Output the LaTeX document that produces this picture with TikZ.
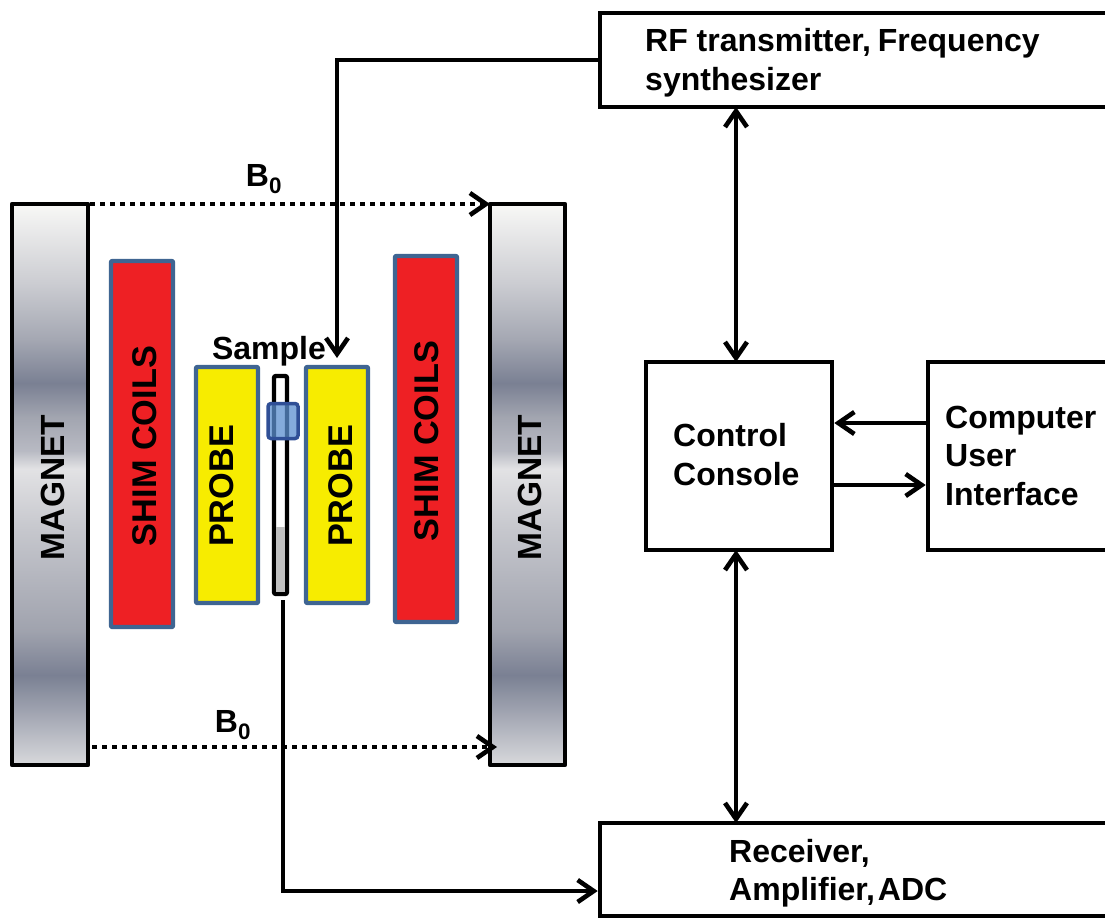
\documentclass[tikz,border=0pt]{standalone}
\usepackage{fontspec}
\setmainfont{Liberation Sans}
\usetikzlibrary{arrows.meta}
\definecolor{magbot}{HTML}{D8D9DC}
\definecolor{magd}{HTML}{7A8093}
\definecolor{maga}{HTML}{A0A3AE}
\definecolor{magb}{HTML}{C6C7CD}
\definecolor{magl}{HTML}{E2E2E4}
\definecolor{magc}{HTML}{B8BAC3}
\definecolor{mage}{HTML}{A2A5B0}
\definecolor{magf}{HTML}{A5A8B3}
\definecolor{magg}{HTML}{CCCDD2}
\definecolor{magw}{HTML}{F8F8F6}
\definecolor{coilblue}{HTML}{3F6592}
\definecolor{coilred}{HTML}{EE2024}
\definecolor{probey}{HTML}{F7EC00}
\definecolor{capline}{HTML}{2F4F96}
\definecolor{capfill}{HTML}{5B8FD0}
\pgfdeclareverticalshading{magshade}{100bp}{
  color(0bp)=(magbot); color(25bp)=(magbot);
  color(33bp)=(magd); color(37bp)=(maga); color(46bp)=(magb); color(51.4bp)=(magl); color(53bp)=(magc); color(56bp)=(mage); color(59bp)=(magd); color(63bp)=(magf); color(68bp)=(magg); color(75bp)=(magw); color(100bp)=(magw)}
\tikzset{
  px/.style={x=1pt,y=-1pt},
  magnetbox/.style={draw=black,line width=4.6pt,shading=magshade,line join=round},
  coilbox/.style={draw=coilblue,line width=4.4pt,line join=round,rounded corners=1pt},
  blockbox/.style={draw=black,line width=4.6pt,fill=white},
  sidetxt/.style={font=\fontsize{34.3}{40}\selectfont\bfseries,rotate=90,inner sep=0pt},
  magtxt/.style={font=\fontsize{33.5}{40}\selectfont\bfseries,rotate=90,inner sep=0pt},
  btxt/.style={font=\fontsize{32}{38.5}\selectfont\bfseries,align=left,inner sep=0pt,anchor=north west},
  ltxt/.style={font=\fontsize{32}{38}\selectfont\bfseries,inner sep=0pt},
  barb/.tip={Straight Barb[length=16pt,width=22pt,line width=4.6pt]},
  conn/.style={line width=4.6pt,-barb},
  conn2/.style={line width=4.6pt,barb-barb},
  dotconn/.style={line width=4.8pt,dash pattern=on 4.8pt off 5.2pt,-{Straight Barb[length=16pt,width=22pt,line width=4.6pt,sep=0pt]}},
}
\begin{document}
\begin{tikzpicture}[px]
\useasboundingbox (0,0) rectangle (1105,918);
\clip (0,0) rectangle (1105,918);
% magnets
\node[magnetbox,minimum width=76pt,minimum height=561pt,inner sep=0pt] (magL) at (50,484.5) {};
\node[magnetbox,minimum width=75pt,minimum height=561pt,inner sep=0pt] (magR) at (527.5,484.5) {};
\node[magtxt] (magLt) at (52.5,487.5) {MAGNET};
\node[magtxt] (magRt) at (529.5,487.5) {MAGNET};
% shim coils
\node[coilbox,fill=coilred,minimum width=62pt,minimum height=366pt,inner sep=0pt] (shimL) at (142,444) {};
\node[coilbox,fill=coilred,minimum width=62pt,minimum height=366pt,inner sep=0pt] (shimR) at (426,439) {};
\node[sidetxt] (shimLt) at (144.5,446) {SHIM COILS};
\node[sidetxt] (shimRt) at (426.5,441) {SHIM COILS};
% probes
\node[coilbox,fill=probey,minimum width=62pt,minimum height=236pt,inner sep=0pt] (probeL) at (227,485) {};
\node[coilbox,fill=probey,minimum width=62pt,minimum height=236pt,inner sep=0pt] (probeR) at (337,485) {};
\node[sidetxt] (probeLt) at (221.5,486) {PROBE};
\node[sidetxt] (probeRt) at (340.5,486) {PROBE};
% sample tube
\node[draw=black,line width=4.4pt,fill=white,rounded corners=2pt,minimum width=13pt,minimum height=218pt,inner sep=0pt] (tube) at (280.5,485) {};
\fill[black!25] (276,527) rectangle (285,592);
\node[draw=capline,line width=3.5pt,fill=capfill,fill opacity=.75,rounded corners=3pt,minimum width=30pt,minimum height=35pt,inner sep=0pt] (cap) at (283,421) {};
\node[ltxt] (sample) at (269,351) {Sample};
% blocks
\node[blockbox,minimum width=520pt,minimum height=94pt,inner sep=0pt] (rf) at (860,60) {};
\node[btxt] (rft) at (645,28.5) {RF transmitter,\hspace{-2pt} Frequency\\synthesizer};
\node[blockbox,minimum width=186pt,minimum height=188pt,inner sep=0pt] (ctrl) at (739,456) {};
\node[btxt] (ctrlt) at (673,423.5) {Control\\Console};
\node[blockbox,minimum width=190pt,minimum height=188pt,inner sep=0pt] (comp) at (1023,456) {};
\node[btxt] (compt) at (945,405.5) {Computer\\User\\Interface};
\node[blockbox,minimum width=520pt,minimum height=93pt,inner sep=0pt] (rec) at (860,869.5) {};
\node[btxt] (rect) at (729,839) {Receiver,\\Amplifier,\hspace{-6pt} ADC};
% connectors
\coordinate (sampletip) at (337,358);
\draw[conn] (rf.west) -- (rf.west -| sampletip) -- (sampletip);
\draw[conn2] (736,107) -- (736,362);
\draw[conn2] (736,550) -- (736,823);
\draw[conn] (comp.west |- 0,423) -- (ctrl.east |- 0,423);
\draw[conn] (ctrl.east |- 0,485) -- (comp.west |- 0,485);
\coordinate (tubeb) at (283,600);
\draw[conn] (tubeb) -- (283,891) -- (rec.west |- 0,891);
% B0
\coordinate (b1a) at (90,204);
\coordinate (b1b) at (490,204);
\draw[dotconn] (b1a) -- (b1b);
\coordinate (b0a) at (92,747);
\coordinate (b0b) at (497,747);
\draw[dotconn] (b0a) -- (b0b);
\node[ltxt] (b1) at (264,179) {B\textsubscript{0}};
\node[ltxt] (b2) at (233,725) {B\textsubscript{0}};
\end{tikzpicture}
\end{document}
